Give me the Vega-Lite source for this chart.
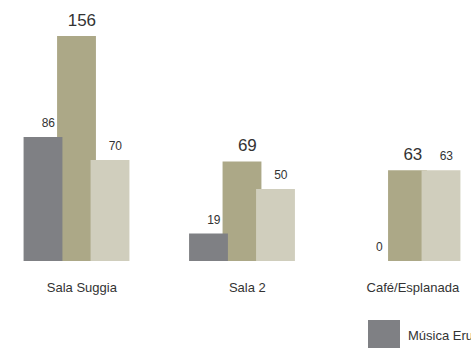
{
  "$schema": "https://vega.github.io/schema/vega-lite/v6.json",
  "width": 471,
  "height": 225,
  "autosize": {"type": "none"},
  "padding": {"left": 0, "top": 36, "right": 0, "bottom": 87},
  "background": "white",
  "config": {"view": {"stroke": null}, "font": "Liberation Sans", "legend": {"symbolSize": 1024}},
  "data": {
    "values": [
      {"sala": "Sala Suggia", "serie": "Jazz", "valor": 156},
      {"sala": "Sala 2", "serie": "Jazz", "valor": 69},
      {"sala": "Café/Esplanada", "serie": "Jazz", "valor": 63},
      {"sala": "Sala Suggia", "serie": "Música Erudita", "valor": 86},
      {"sala": "Sala 2", "serie": "Música Erudita", "valor": 19},
      {"sala": "Café/Esplanada", "serie": "Música Erudita", "valor": 0},
      {"sala": "Sala Suggia", "serie": "Pop/Rock", "valor": 70},
      {"sala": "Sala 2", "serie": "Pop/Rock", "valor": 50},
      {"sala": "Café/Esplanada", "serie": "Pop/Rock", "valor": 63}
    ]
  },
  "encoding": {
    "x": {
      "field": "sala",
      "type": "nominal",
      "sort": ["Sala Suggia", "Sala 2", "Café/Esplanada"],
      "scale": {"paddingInner": 0.3927, "paddingOuter": 0.1194, "align": 0.8},
      "axis": {"title": null, "labelAngle": 0, "domain": false, "ticks": false, "labelPadding": 20, "labelFontSize": 13, "labelColor": "#333333"}
    },
    "xOffset": {
      "field": "serie",
      "type": "nominal",
      "sort": ["Música Erudita", "Jazz", "Pop/Rock"],
      "scale": {"paddingInner": 0, "paddingOuter": 0}
    },
    "y": {
      "field": "valor",
      "type": "quantitative",
      "scale": {"domain": [0, 156], "nice": false},
      "axis": null
    }
  },
  "layer": [
    {
      "mark": {"type": "bar", "width": {"band": 1.16}},
      "encoding": {
        "color": {
          "field": "serie",
          "type": "nominal",
          "scale": {"domain": ["Música Erudita", "Jazz", "Pop/Rock"], "range": ["#7f8084", "#aca887", "#d0cebd"]},
          "legend": {
            "orient": "none",
            "legendX": 368,
            "legendY": 284,
            "direction": "horizontal",
            "title": null,
            "symbolType": "square",
            "symbolSize": 1024,
            "symbolStrokeWidth": 0,
            "symbolOpacity": 1,
            "labelFontSize": 13,
            "labelOffset": 8,
            "labelColor": "#333333",
            "columnPadding": 30,
            "padding": 0,
            "encode": {"symbols": {"update": {"size": {"value": 1024}, "shape": {"value": "square"}}}}
          }
        }
      }
    },
    {
      "mark": {"type": "text", "baseline": "alphabetic", "dy": -10, "color": "#333333"},
      "encoding": {
        "text": {"field": "valor", "type": "quantitative"},
        "size": {"condition": {"test": "datum.serie === 'Jazz'", "value": 17}, "value": 12}
      }
    }
  ]
}
